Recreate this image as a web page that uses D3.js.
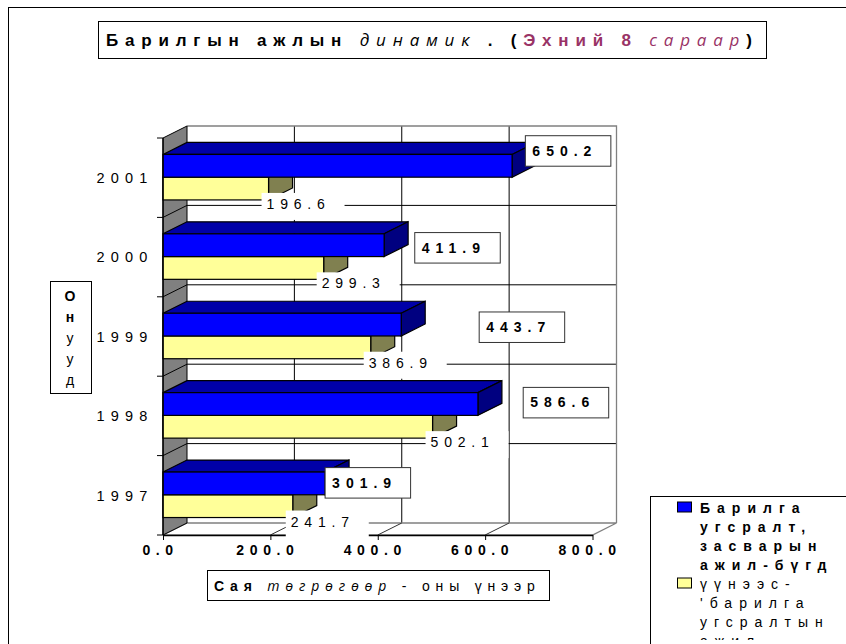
<!DOCTYPE html>
<html>
<head>
<meta charset="utf-8">
<script src="https://cdn.jsdelivr.net/npm/d3@7/dist/d3.min.js"></script>
<style>
  body { margin: 0; background: #fff; }
  svg { display: block; }
</style>
</head>
<body>
<div id="chart"></div>
<script>
// categories, top to bottom as drawn
const years = ["2001", "2000", "1999", "1998", "1997"];
// Барилга угсралт, засварын ажил - бүгд
const totalWork = [650.2, 411.9, 443.7, 586.6, 301.9];
// үүнээс - барилга угсралтын ажил
const buildWork = [196.6, 299.3, 386.9, 502.1, 241.7];
const xTicks = [0, 200, 400, 600, 800];
// the boxed labels were dragged by hand: left edge in value units, height as share of the band
const totalLabelAt = [674, 468, 588, 670, 301];
const totalLabelBand = [0.16, 0.38, 0.38, 0.33, 0.34];
const legendTotal = ["Барилга", "угсралт,", "засварын", "ажил-бүгд"];
const legendBuild = ["үүнээс-", "'барилга", "угсралтын", "ажил-"];
const yTitle = ["О", "н", "у", "у", "д"];

const W = 846, H = 644;
const FONT = "'Liberation Sans', Arial, sans-serif";
const ITAL = "'Open Sans', 'Liberation Sans', sans-serif";
const DX = 24, DY = -12; // depth of the 3D box

const svg = d3.select("#chart").append("svg")
    .attr("width", W).attr("height", H)
    .style("font-family", FONT);

// outer chart frame (runs off the page on right and bottom)
svg.append("rect").attr("x", 8.5).attr("y", 7.5).attr("width", 900).attr("height", 700)
    .attr("fill", "#fff").attr("stroke", "#000");

const x = d3.scaleLinear().domain([0, 800]).range([163, 592.5]);
const y = d3.scaleBand().domain(years).range([138, 535]);
const inner = d3.scaleBand().domain(["total", "build"])
    .range([0.207 * y.bandwidth(), 0.78 * y.bandwidth()]);

const y0 = y.range()[0], y1 = y.range()[1];
const x0 = x(0), x1 = x(800);

// ---- back wall, side wall, floor ----
const box = svg.append("g");
box.append("rect").attr("x", x0 + DX).attr("y", y0 + DY)
    .attr("width", x1 - x0).attr("height", y1 - y0).attr("fill", "#fff");

// vertical gridlines on back wall
box.selectAll("line.vgrid").data(xTicks.slice(1, -1)).join("line")
    .attr("x1", d => x(d) + DX).attr("x2", d => x(d) + DX)
    .attr("y1", y0 + DY).attr("y2", y1 + DY)
    .attr("stroke", "#000");

// horizontal gridlines on back wall (category boundaries)
const bounds = years.slice(1).map(d => y(d));
box.selectAll("line.hgrid").data(bounds).join("line")
    .attr("x1", x0 + DX).attr("x2", x1 + DX)
    .attr("y1", d => d + DY).attr("y2", d => d + DY)
    .attr("stroke", "#000");

// back wall edges
box.append("path")
    .attr("d", `M${x0 + DX},${y0 + DY}H${x1 + DX}V${y1 + DY}`)
    .attr("fill", "none").attr("stroke", "#808080").attr("stroke-width", 1.3);

// floor
box.append("path")
    .attr("d", `M${x0},${y1}L${x0 + DX},${y1 + DY}H${x1 + DX}L${x1},${y1}Z`)
    .attr("fill", "#fff").attr("stroke", "#808080").attr("stroke-width", 1.3);
box.selectAll("line.fgrid").data(xTicks.slice(1, -1)).join("line")
    .attr("x1", d => x(d)).attr("x2", d => x(d) + DX)
    .attr("y1", y1).attr("y2", y1 + DY)
    .attr("stroke", "#333");

// left wall
box.append("path")
    .attr("d", `M${x0},${y0}L${x0 + DX},${y0 + DY}V${y1 + DY}L${x0},${y1}Z`)
    .attr("fill", "#808080").attr("stroke", "#000");
box.selectAll("line.wgrid").data(bounds).join("line")
    .attr("x1", x0).attr("x2", x0 + DX)
    .attr("y1", d => d).attr("y2", d => d + DY)
    .attr("stroke", "#000");

// ---- bars ----
function bar3d(g, xa, xb, top, h, c) {
    g.append("path")
        .attr("d", `M${xa},${top}L${xa + DX},${top + DY}H${xb + DX}L${xb},${top}Z`)
        .attr("fill", c.top).attr("stroke", "#000").attr("stroke-width", 1.2);
    g.append("path")
        .attr("d", `M${xb},${top}L${xb + DX},${top + DY}V${top + h + DY}L${xb},${top + h}Z`)
        .attr("fill", c.side).attr("stroke", "#000").attr("stroke-width", 1.2);
    g.append("rect").attr("x", xa).attr("y", top).attr("width", xb - xa).attr("height", h)
        .attr("fill", c.front).attr("stroke", "#000").attr("stroke-width", 1.2);
}
const blue = {front: "#0000ff", top: "#0000a8", side: "#000080"};
const yellow = {front: "#ffff99", top: "#cccc7a", side: "#808050"};

const bars = svg.append("g");
years.forEach((yr, i) => {
    const g = bars.append("g");
    bar3d(g, x(0), x(buildWork[i]), y(yr) + inner("build"), inner.bandwidth(), yellow);
    bar3d(g, x(0), x(totalWork[i]), y(yr) + inner("total"), inner.bandwidth(), blue);
});

// ---- axes ----
const xAxis = svg.append("g").attr("transform", `translate(0,${y1})`)
    .call(d3.axisBottom(x).tickValues(xTicks).tickFormat(d3.format(".1f"))
        .tickSize(5).tickSizeOuter(0));
xAxis.select(".domain").attr("stroke", "#000").attr("stroke-width", 1.3);
xAxis.selectAll(".tick line").attr("stroke", "#000");
xAxis.selectAll(".tick text")
    .attr("x", -3).attr("y", 10).attr("dy", "0.71em")
    .style("font-family", FONT).style("font-size", "14px").style("font-weight", "bold")
    .style("letter-spacing", "5.6px").attr("fill", "#000");

// category axis: front edge + ticks at band boundaries
svg.append("line").attr("x1", x0).attr("x2", x0).attr("y1", y0).attr("y2", y1)
    .attr("stroke", "#000").attr("stroke-width", 1.3);
svg.selectAll("line.ytick").data([y0, ...bounds, y1]).join("line")
    .attr("x1", x0 - 6).attr("x2", x0).attr("y1", d => d).attr("y2", d => d)
    .attr("stroke", "#000");
svg.selectAll("text.cat").data(years).join("text")
    .attr("x", 153.5).attr("y", d => y(d) + y.bandwidth() / 2).attr("dy", "0.36em")
    .attr("text-anchor", "end")
    .style("font-size", "14.5px").style("letter-spacing", "6.2px")
    .text(d => d);

// ---- data labels ----
const labels = svg.append("g");
buildWork.forEach((v, i) => {
    const bottom = y(years[i]) + inner("build") + inner.bandwidth();
    const tx = x(v) - 2, cy = bottom + 4;
    labels.append("rect").attr("x", tx - 5).attr("y", cy - 11)
        .attr("width", 83).attr("height", 27).attr("fill", "#fff");
    labels.append("text").attr("x", tx).attr("y", cy).attr("dy", "0.36em")
        .style("font-size", "14px").style("letter-spacing", "5.8px")
        .text(d3.format(".1f")(v));
});
totalWork.forEach((v, i) => {
    const lx = x(totalLabelAt[i]);
    const cy = y(years[i]) + totalLabelBand[i] * y.bandwidth();
    labels.append("rect").attr("x", lx + 0.5).attr("y", cy - 15)
        .attr("width", 85.5).attr("height", 30.5)
        .attr("fill", "#fff").attr("stroke", "#333");
    labels.append("text").attr("x", lx + 7.5).attr("y", cy).attr("dy", "0.36em")
        .style("font-size", "14px").style("font-weight", "bold").style("letter-spacing", "6px")
        .text(d3.format(".1f")(v));
});

// ---- title ----
svg.append("rect").attr("x", 98.5).attr("y", 21.5).attr("width", 668).attr("height", 37)
    .attr("fill", "#fff").attr("stroke", "#000");
const title = svg.append("text").attr("x", 106).attr("y", 46)
    .style("font-size", "17px").style("letter-spacing", "6.8px");
title.append("tspan").style("font-weight", "bold").text("Барилгын ажлын ");
title.append("tspan").style("font-style", "italic").style("font-family", ITAL).text("динамик");
title.append("tspan").style("font-weight", "bold").text(" . (");
title.append("tspan").style("font-weight", "bold").attr("fill", "#993366").text("Эхний 8 ");
title.append("tspan").style("font-style", "italic").style("font-family", ITAL)
    .attr("fill", "#993366").text("сараар");
title.append("tspan").style("font-weight", "bold").text(")");

// ---- axis titles ----
svg.append("rect").attr("x", 50.5).attr("y", 281.5).attr("width", 41).attr("height", 112)
    .attr("fill", "#fff").attr("stroke", "#000");
svg.selectAll("text.ytitle").data(yTitle).join("text")
    .attr("x", 70).attr("y", (d, i) => 295.5 + i * 21.2).attr("dy", "0.36em")
    .attr("text-anchor", "middle")
    .style("font-size", "14px").style("font-weight", (d, i) => i < 2 ? "bold" : "normal")
    .text(d => d);

svg.append("rect").attr("x", 207.5).attr("y", 570.5).attr("width", 342).attr("height", 30)
    .attr("fill", "#fff").attr("stroke", "#000");
const xt = svg.append("text").attr("x", 214).attr("y", 586).attr("dy", "0.36em")
    .style("font-size", "14px").style("letter-spacing", "5.8px");
xt.append("tspan").style("font-weight", "bold").text("Сая ");
xt.append("tspan").style("font-style", "italic").style("font-family", ITAL).text("төгрөгөөр");
xt.append("tspan").text(" - оны үнээр");

// ---- legend ----
const legend = svg.append("g");
legend.append("rect").attr("x", 650.5).attr("y", 496.5).attr("width", 300).attr("height", 300)
    .attr("fill", "#fff").attr("stroke", "#000");
svg.append("clipPath").attr("id", "legclip")
    .append("rect").attr("x", 651).attr("y", 497).attr("width", 200).attr("height", 143);
const lg = legend.append("g").attr("clip-path", "url(#legclip)");
const lineY = d3.scaleLinear().domain([0, 1]).range([508, 527]);
[[legendTotal, blue.front, "bold"], [legendBuild, yellow.front, "normal"]].forEach(([lines, col, wt], k) => {
    const first = k * legendTotal.length;
    lg.append("rect").attr("x", 677.5).attr("y", lineY(first) - 6).attr("width", 14).attr("height", 10)
        .attr("fill", col).attr("stroke", "#000");
    lines.forEach((t, j) => {
        lg.append("text").attr("x", 700).attr("y", lineY(first + j)).attr("dy", "0.36em")
            .style("font-size", "14px").style("font-weight", wt).style("letter-spacing", "7px")
            .text(t);
    });
});
</script>
</body>
</html>
